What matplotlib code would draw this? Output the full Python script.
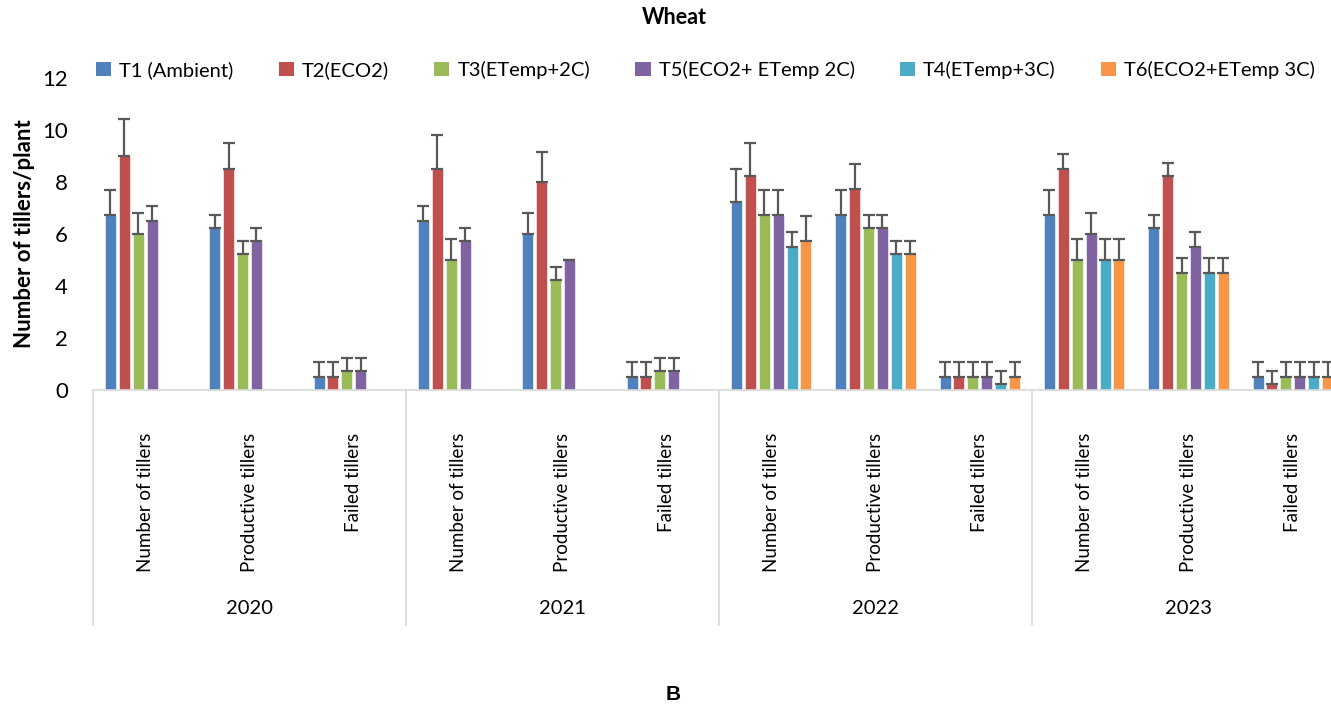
import numpy as np
import matplotlib
matplotlib.use("Agg")
import matplotlib.pyplot as plt
from matplotlib.patches import Patch
from matplotlib.transforms import blended_transform_factory

# ---------------- data ----------------
years = ["2020", "2021", "2022", "2023"]
categories = ["Number of tillers", "Productive tillers", "Failed tillers"]
series_names = ["T1 (Ambient)", "T2(ECO2)", "T3(ETemp+2C)", "T5(ECO2+ ETemp 2C)",
                "T4(ETemp+3C)", "T6(ECO2+ETemp 3C)"]
colors = ["#4F81BD", "#C0504D", "#9BBB59", "#8064A2", "#4BACC6", "#F79646"]

nan = np.nan
t1 = [6.75, 6.25, 0.5, 6.5, 6.0, 0.5, 7.25, 6.75, 0.5, 6.75, 6.25, 0.5]
t1_err = [0.95, 0.5, 0.58, 0.58, 0.8, 0.58, 1.25, 0.95, 0.58, 0.95, 0.5, 0.58]
t2 = [9.0, 8.5, 0.5, 8.5, 8.0, 0.5, 8.25, 7.75, 0.5, 8.5, 8.25, 0.25]
t2_err = [1.41, 1.0, 0.58, 1.29, 1.15, 0.58, 1.26, 0.96, 0.58, 0.58, 0.5, 0.5]
t3 = [6.0, 5.25, 0.75, 5.0, 4.25, 0.75, 6.75, 6.25, 0.5, 5.0, 4.5, 0.5]
t3_err = [0.82, 0.5, 0.5, 0.82, 0.5, 0.5, 0.96, 0.5, 0.58, 0.82, 0.58, 0.58]
t5 = [6.5, 5.75, 0.75, 5.75, 5.0, 0.75, 6.75, 6.25, 0.5, 6.0, 5.5, 0.5]
t5_err = [0.58, 0.5, 0.5, 0.5, 0.0, 0.5, 0.96, 0.5, 0.58, 0.82, 0.58, 0.58]
t4 = [nan, nan, nan, nan, nan, nan, 5.5, 5.25, 0.25, 5.0, 4.5, 0.5]
t4_err = [nan, nan, nan, nan, nan, nan, 0.58, 0.5, 0.5, 0.82, 0.58, 0.58]
t6 = [nan, nan, nan, nan, nan, nan, 5.75, 5.25, 0.5, 5.0, 4.5, 0.5]
t6_err = [nan, nan, nan, nan, nan, nan, 0.96, 0.5, 0.58, 0.82, 0.58, 0.58]

values = [t1, t2, t3, t5, t4, t6]
errors = [t1_err, t2_err, t3_err, t5_err, t4_err, t6_err]
yticks = [0, 2, 4, 6, 8, 10, 12]

# ---------------- figure ----------------
W, H = 1331, 708
fig = plt.figure(figsize=(W / 100, H / 100), dpi=100)
ax_left, ax_right, ax_bottom, ax_top = 93, 1345, 390, 78
ax = fig.add_axes([ax_left / W, 1 - ax_bottom / H,
                   (ax_right - ax_left) / W, (ax_bottom - ax_top) / H])

n_cat = len(years) * len(categories)
n_ser = len(values)
group_w = 0.8
slot = group_w / n_ser
bar_w = slot * 0.79
base = np.arange(n_cat)

for k, (vals, errs) in enumerate(zip(values, errors)):
    x = base + 0.1 + (k + 0.5) * slot
    v = np.array(vals, dtype=float)
    e = np.array(errs, dtype=float)
    ax.bar(x, v, width=bar_w, color=colors[k], edgecolor="white",
           linewidth=0.4, zorder=2)
    ax.errorbar(x, v, yerr=[np.zeros_like(e), e], fmt="none",
                ecolor="#595959", elinewidth=1.6, capsize=4.2, capthick=1.6,
                zorder=3)

ax.set_xlim(0, n_cat)
ax.set_ylim(0, 12)
ax.set_yticks(yticks)
ax.set_yticklabels([str(t) for t in yticks], fontsize=16, family="Lato")
ax.tick_params(axis="y", length=0, pad=18, colors="black")
ax.set_xticks([])
for s in ["top", "right", "left"]:
    ax.spines[s].set_visible(False)
ax.spines["bottom"].set_color("#D9D9D9")
ax.spines["bottom"].set_linewidth(1.2)

ax.set_ylabel("Number of tillers/plant", fontsize=16, fontweight="bold",
              family="Lato")
ax.yaxis.set_label_coords(-0.046, 0.5)

trans = blended_transform_factory(ax.transData, ax.transAxes)
ax_h = ax_bottom - ax_top
div_bottom = -(625 - ax_bottom) / ax_h
cat_top = -(433 - ax_bottom) / ax_h
year_y = -(608 - ax_bottom) / ax_h

for j in range(len(years) + 1):
    xd = j * len(categories)
    ax.plot([xd, xd], [0, div_bottom], transform=trans, color="#D9D9D9",
            lw=1.2, clip_on=False, zorder=1)

for i in range(n_cat):
    ax.text(i + 0.5, cat_top, categories[i % len(categories)], transform=trans,
            rotation=90, ha="center", va="top", fontsize=13.5,
            family="Lato")

for j, yr in enumerate(years):
    ax.text(j * len(categories) + len(categories) / 2, year_y, yr,
            transform=trans, ha="center", va="center", fontsize=14.5,
            family="Lato")

handles = [Patch(facecolor=c, edgecolor="none") for c in colors]
fig.legend(handles, series_names, loc="center left", ncol=6,
           bbox_to_anchor=(96 / W, 1 - 70 / H), frameon=False,
           prop={"family": "Lato", "size": 14.5},
           handlelength=0.75, handleheight=0.75, handletextpad=0.4,
           columnspacing=2.25, borderaxespad=0, borderpad=0)

fig.text(674 / W, 1 - 18 / H, "Wheat", ha="center", va="center",
         fontsize=15.5, fontweight="bold", family="Lato")
fig.text(673 / W, 1 - 695 / H, "B", ha="center", va="center",
         fontsize=15, fontweight="bold", family="Liberation Sans")

fig.savefig("out.png", dpi=100)
